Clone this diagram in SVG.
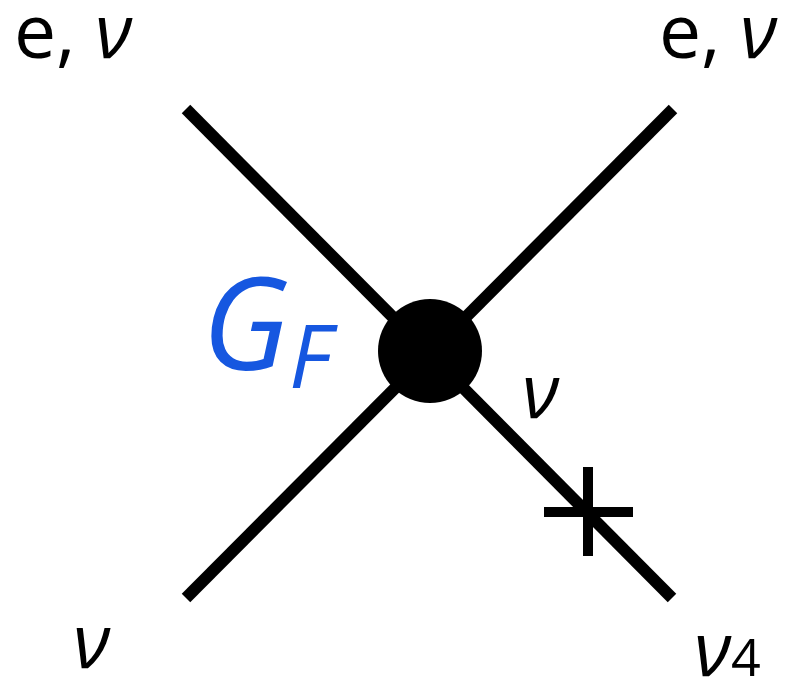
<svg xmlns="http://www.w3.org/2000/svg" width="787" height="682" viewBox="0 0 787 682">
<style>
.ln{stroke:#000;stroke-width:12;fill:none}
.cr{stroke:#000;stroke-width:10;fill:none}
.t{font-family:"Open Sans","Noto Sans",sans-serif;font-size:75px;fill:#000}
.i{font-style:italic}
.g{font-family:"Open Sans","Noto Sans",sans-serif;font-style:italic;fill:#1657E0}
</style>
<rect width="787" height="682" fill="#fff"/>
<g id="connectors">
<line class="ln" x1="186" y1="109" x2="672" y2="598"/>
<line class="ln" x1="673" y1="109" x2="186" y2="598"/>
<line class="cr" x1="544" y1="512" x2="633" y2="512"/>
<line class="cr" x1="588" y1="467" x2="588" y2="556"/>
</g>
<g id="vertex"><circle cx="430" cy="351" r="52" fill="#000"/></g>
<g id="label-tl"><text class="t" x="14" y="58">e, <tspan class="i">ν</tspan></text></g>
<g id="label-tr"><text class="t" x="659" y="58">e, <tspan class="i">ν</tspan></text></g>
<g id="label-gf"><text class="g" x="202" y="370" font-size="128">G<tspan font-size="88" dy="18">F</tspan></text></g>
<g id="label-mid"><text class="t i" x="522" y="418">ν</text></g>
<g id="label-bl"><text class="t i" x="73" y="668">ν</text></g>
<g id="label-br"><text class="t" x="694" y="676"><tspan class="i">ν</tspan><tspan font-size="52">4</tspan></text></g>
</svg>
